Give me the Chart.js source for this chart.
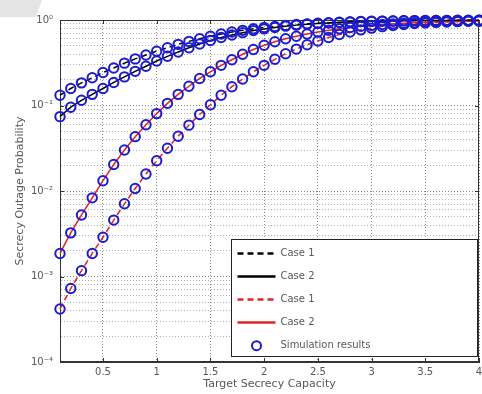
<!DOCTYPE html>
<html><head><meta charset="utf-8">
<script src="https://cdn.jsdelivr.net/npm/chart.js@4"></script>
<style>html,body{margin:0;padding:0;background:#fff;overflow:hidden}</style>
</head><body>
<canvas id="c" width="482" height="394" style="display:block;width:482px;height:394px"></canvas>
<script>
// ---- data ----
const capacity = [0.1,0.2,0.3,0.4,0.5,0.6,0.7,0.8,0.9,1.0,1.1,1.2,1.3,1.4,1.5,1.6,1.7,1.8,1.9,2.0,
                  2.1,2.2,2.3,2.4,2.5,2.6,2.7,2.8,2.9,3.0,3.1,3.2,3.3,3.4,3.5,3.6,3.7,3.8,3.9,4.0];
const case1Black = [0.132,0.158,0.184,0.211,0.243,0.275,0.313,0.351,0.389,0.432,0.473,0.519,0.562,0.605,0.646,0.685,0.723,0.757,0.789,0.817,
                    0.841,0.865,0.885,0.902,0.916,0.929,0.940,0.951,0.959,0.966,0.971,0.975,0.979,0.984,0.986,0.989,0.991,0.993,0.994,0.995];
const case2Black = [0.0741,0.0955,0.115,0.135,0.158,0.186,0.216,0.251,0.288,0.331,0.376,0.422,0.473,0.525,0.575,0.624,0.668,0.711,0.752,0.787,
                    0.818,0.847,0.871,0.891,0.910,0.925,0.938,0.948,0.957,0.964,0.970,0.975,0.979,0.982,0.984,0.986,0.989,0.990,0.991,0.992];
const case1Red = [0.000417,0.000724,0.00117,0.00186,0.00288,0.00457,0.00708,0.0107,0.0158,0.0226,0.0316,0.0437,0.0589,0.0785,0.102,0.132,0.166,0.204,0.248,0.295,
                  0.347,0.403,0.457,0.513,0.569,0.624,0.676,0.724,0.767,0.804,0.836,0.863,0.887,0.908,0.925,0.938,0.948,0.957,0.966,0.973];
const case2Red = [0.00186,0.00324,0.00525,0.00832,0.0132,0.0204,0.0302,0.0432,0.0596,0.0804,0.106,0.135,0.168,0.207,0.248,0.295,0.343,0.398,0.452,0.507,
                  0.556,0.603,0.646,0.687,0.724,0.759,0.791,0.818,0.843,0.865,0.885,0.902,0.916,0.929,0.940,0.951,0.959,0.966,0.973,0.977];
const xTickValues = [0.5,1,1.5,2,2.5,3,3.5,4];
const xTickLabels = ['0.5','1','1.5','2','2.5','3','3.5','4'];
const yTickValues = [1e-4,1e-3,1e-2,1e-1,1];
const yTickLabels = ['10\u207B\u2074','10\u207B\u00B3','10\u207B\u00B2','10\u207B\u00B9','10\u2070'];
const seriesLabels = ['Case 1','Case 2','Case 1','Case 2','Simulation results'];
const xTitle = 'Target Secrecy Capacity';
const yTitle = 'Secrecy Outage Probability';

// ---- styles ----
const BLUE = 'rgb(28,28,205)';
const RED = 'rgb(225,35,40)';
const FAMILY = "'DejaVu Sans', 'Liberation Sans', Arial, sans-serif";
const TICKFONT = {family: FAMILY, size: 10};
const TITLEFONT = {family: FAMILY, size: 11};
const TXT = '#585858';

const toPts = arr => capacity.map((x, i) => ({x: x, y: arr[i]}));
const simPts = [case1Black, case2Black, case1Red, case2Red].map(toPts).flat();

function lineDs(label, arr, color, dash) {
  return {label, data: toPts(arr), borderColor: color, backgroundColor: color, borderWidth: 1.5,
          borderDash: dash, pointRadius: 0, tension: 0, order: 2, clip: false};
}

const datasets = [
  {label: seriesLabels[4], data: simPts, showLine: false, pointRadius: 4.7, pointBorderWidth: 2,
   pointBorderColor: BLUE, pointBackgroundColor: 'rgba(0,0,0,0)', borderColor: BLUE, order: 0, clip: false},
  lineDs(seriesLabels[0], case1Black, '#000', [6,4]),
  lineDs(seriesLabels[1], case2Black, '#000', []),
  lineDs(seriesLabels[2], case1Red, RED, [6,4]),
  lineDs(seriesLabels[3], case2Red, RED, [])
];

const framePlugin = {
  id: 'frame',
  beforeDraw(chart) {
    const ctx = chart.ctx;
    ctx.save();
    ctx.fillStyle = '#fff';
    ctx.fillRect(0, 0, chart.width, chart.height);
    ctx.fillStyle = '#e4e4e4';
    ctx.beginPath();
    ctx.moveTo(0, 0); ctx.lineTo(42, 0); ctx.lineTo(36, 17); ctx.lineTo(0, 17); ctx.closePath();
    ctx.fill();
    ctx.restore();
  },
  beforeDatasetsDraw(chart) {
    const {ctx, chartArea: a, scales} = chart;
    ctx.save();
    ctx.strokeStyle = '#333';
    ctx.lineWidth = 1;
    ctx.strokeRect(Math.round(a.left) + 0.5, Math.round(a.top) + 0.5,
                   Math.round(a.right - a.left) - 1, Math.round(a.bottom - a.top) - 1);
    ctx.beginPath();
    xTickValues.forEach(v => {
      const px = Math.round(scales.x.getPixelForValue(v)) + 0.5;
      ctx.moveTo(px, a.bottom); ctx.lineTo(px, a.bottom - 4);
      ctx.moveTo(px, a.top); ctx.lineTo(px, a.top + 4);
    });
    yTickValues.forEach(v => {
      const py = Math.round(scales.y.getPixelForValue(v)) + 0.5;
      ctx.moveTo(a.left, py); ctx.lineTo(a.left + 4, py);
      ctx.moveTo(a.right, py); ctx.lineTo(a.right - 4, py);
    });
    ctx.stroke();
    ctx.restore();
  },
  afterDraw(chart) {
    const {ctx, chartArea: a} = chart;
    const bx = Math.round(a.right) - 247.5, by = Math.round(a.bottom) - 122.5, bw = 246, bh = 117;
    ctx.save();
    ctx.fillStyle = '#fff';
    ctx.fillRect(bx, by, bw, bh);
    ctx.strokeStyle = '#222';
    ctx.lineWidth = 1;
    ctx.strokeRect(bx, by, bw, bh);
    const rowY = i => by + 13 + i * 23.3;
    ctx.font = "10px " + FAMILY;
    ctx.textBaseline = 'middle';
    for (let i = 1; i <= 4; i++) {
      const ds = chart.data.datasets[i];
      const y = Math.round(rowY(i - 1)) + 0.5;
      ctx.strokeStyle = ds.borderColor;
      ctx.lineWidth = 2.5;
      ctx.setLineDash(ds.borderDash.length ? [6, 4] : []);
      ctx.beginPath(); ctx.moveTo(bx + 6, y); ctx.lineTo(bx + 44, y); ctx.stroke();
      ctx.setLineDash([]);
      ctx.fillStyle = TXT;
      ctx.fillText(ds.label, bx + 49, y);
    }
    const sy = rowY(4);
    const sim = chart.data.datasets[0];
    ctx.strokeStyle = sim.pointBorderColor;
    ctx.lineWidth = 2;
    ctx.beginPath(); ctx.arc(bx + 25, sy, 4.5, 0, Math.PI * 2); ctx.stroke();
    ctx.fillStyle = TXT;
    ctx.fillText(sim.label, bx + 49, sy);
    ctx.restore();
  }
};

new Chart(document.getElementById('c'), {
  type: 'line',
  data: {datasets},
  options: {
    responsive: false,
    animation: false,
    devicePixelRatio: 1,
    layout: {autoPadding: false, padding: {top: 20, right: 3, left: 0, bottom: 0}},
    plugins: {legend: {display: false}, tooltip: {enabled: false}},
    scales: {
      x: {
        type: 'linear', min: 0.1, max: 4,
        afterBuildTicks: s => { s.ticks = xTickValues.map(v => ({value: v})); },
        afterFit: s => { s.height = 32; s.paddingLeft = 0; s.paddingRight = 0; },
        ticks: {autoSkip: false, maxRotation: 0, padding: 4, color: TXT, font: TICKFONT,
                callback: v => { const i = xTickValues.indexOf(v); return i >= 0 ? xTickLabels[i] : ''; }},
        grid: {color: '#8a8a8a', lineWidth: 1, drawTicks: false},
        border: {display: true, color: '#333', dash: [1, 2]},
        title: {display: true, text: xTitle, color: TXT, font: TITLEFONT, padding: {top: 0, bottom: 3}}
      },
      y: {
        type: 'logarithmic', min: 1e-4, max: 1,
        afterBuildTicks: s => {
          const t = [];
          for (let d = 0; d < yTickValues.length - 1; d++)
            for (let m = 1; m <= 9; m++) t.push({value: m * yTickValues[d], major: m === 1});
          t.push({value: yTickValues[yTickValues.length - 1], major: true});
          s.ticks = t;
        },
        afterFit: s => { s.width = 60; s.paddingTop = 0; s.paddingBottom = 0; },
        ticks: {autoSkip: false, padding: 7, color: TXT, font: TICKFONT,
                callback: v => { const i = yTickValues.findIndex(t => Math.abs(t - v) / t < 1e-6); return i >= 0 ? yTickLabels[i] : ''; }},
        grid: {color: c => (c.tick && c.tick.major) ? '#8a8a8a' : '#b0b0b0', lineWidth: 1, drawTicks: false},
        border: {display: true, color: '#333', dash: [1, 2]},
        title: {display: true, text: yTitle, color: TXT, font: TITLEFONT, padding: {top: 14, bottom: 0}}
      }
    }
  },
  plugins: [framePlugin]
});
</script>
</body></html>
